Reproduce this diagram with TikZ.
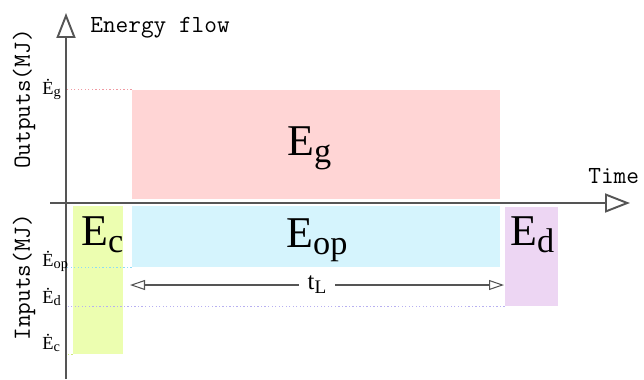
\documentclass[tikz,border=0pt]{standalone}
\usepackage{fontspec}
\setmainfont{Liberation Serif}
\usetikzlibrary{positioning,arrows.meta,fit}
\definecolor{axisgray}{HTML}{555555}
\definecolor{genfill}{HTML}{FFD5D5}
\definecolor{opfill}{HTML}{D5F4FD}
\definecolor{cfill}{HTML}{ECFEB0}
\definecolor{dfill}{HTML}{EDD6F3}
\definecolor{gendot}{HTML}{F09AA2}
\definecolor{opdot}{HTML}{8EDCF5}
\definecolor{cdot}{HTML}{CDEA7A}
\definecolor{ddot}{HTML}{B8B0F0}
\makeatletter
\newcommand\lo[1]{\raisebox{-0.16em}{\fontsize{\the\dimexpr0.78\dimexpr\f@size pt\relax\relax}{1pt}\selectfont #1}}
\makeatother

\begin{document}
\begin{tikzpicture}[x=0.02cm,y=-0.02cm,
  axis/.style={line width=1.1pt,draw=axisgray,-{Triangle[open,length=0.5cm,width=0.38cm]}},
  blk/.style={inner sep=0pt,draw=none},
  guide/.style={line width=0.8pt,dash pattern=on 0.7pt off 1.3pt},
  elbl/.style={font=\fontsize{25}{28}\selectfont,inner sep=0pt,anchor=base west},
  rate/.style={font=\fontsize{10.5}{12}\selectfont,inner sep=0pt,anchor=base west},
  ax/.style={font=\ttfamily\fontsize{14}{16}\selectfont,text=black,inner sep=0pt},
  span/.style={line width=0.6pt,draw=axisgray,{Triangle[open,length=0.3cm,width=0.2cm]}-{Triangle[open,length=0.3cm,width=0.2cm]}}]
  \useasboundingbox (0,0) rectangle (644,379);

  % energy blocks
  \node[blk,fill=genfill,fit={(132,90) (500,199)}] (eg) {};
  \node[blk,fill=opfill,fit={(132,206) (500,267)}] (eop) {};
  \node[blk,fill=cfill,fit={(73,206) (123,354)}] (ec) {};
  \node[blk,fill=dfill,fit={(505,207) (558,306)}] (ed) {};
  \node[elbl] (egl) at (287,155) {E\lo{g}};
  \node[elbl] (eopl) at (286,247) {E\lo{op}};
  \node[elbl] (ecl) at (81,245) {E\lo{c}};
  \node[elbl] (edl) at (510,245) {E\lo{d}};

  % axes
  \coordinate (o) at (66,203);
  \coordinate (ytop) at (66,13);
  \coordinate (ybot) at (66,379);
  \coordinate (xbeg) at (50,203);
  \coordinate (xend) at (630,203);

  \draw[guide,draw=gendot] (eg.north west) -- (eg.north west -| o);
  \draw[guide,draw=opdot] (eop.south west) -- (eop.south west -| o);
  \draw[guide,draw=ddot] (ed.south west) -- (ed.south west -| o);
  \draw[guide,draw=cdot] (ec.south west) -- (ec.south west -| o);

  \draw[axis] (ybot) -- (ytop);
  \draw[axis] (xbeg) -- (xend);
  \node[ax,anchor=base west] (eflow) at (90,32) {Energy flow};
  \node[ax,anchor=base west] (time) at (588,183) {Time};
  \node[ax,rotate=90] (outl) at (24,99) {Outputs(MJ)};
  \node[ax,rotate=90] (inl) at (24,277) {Inputs(MJ)};

  % rate ticks
  \node[rate] (rg) at (42,94) {Ė\lo{g}};
  \node[rate] (rop) at (42,266) {Ė\lo{op}};
  \node[rate] (rd) at (42,303) {Ė\lo{d}};
  \node[rate] (rc) at (42,349) {Ė\lo{c}};

  % lifetime
  \coordinate (tla) at (130,285);
  \coordinate (tlb) at (504,285);
  \draw[span] (tla) -- node[fill=white,inner xsep=0.18cm,inner ysep=1pt,font=\fontsize{14}{16}\selectfont] (tl) {t\lo{L}} (tlb);
\end{tikzpicture}
\end{document}
